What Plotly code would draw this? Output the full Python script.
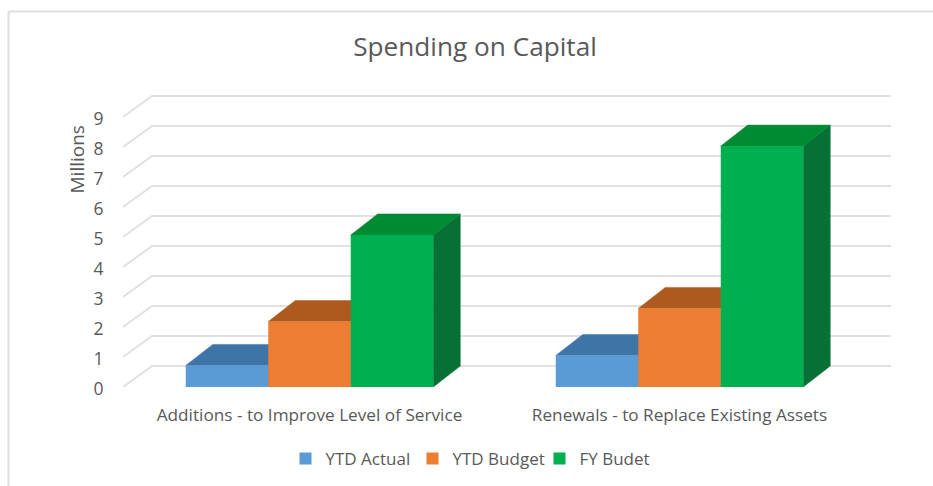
import plotly.graph_objects as go

categories = ["Additions - to Improve Level of Service", "Renewals - to Replace Existing Assets"]
series_names = ["YTD Actual", "YTD Budget", "FY Budet"]
ytd_actual = [0.72, 1.05]
ytd_budget = [2.18, 2.62]
fy_budget = [5.07, 8.03]
y_ticks = [0, 1, 2, 3, 4, 5, 6, 7, 8, 9]

front_colors = ["#5B9BD5", "#ED7D31", "#00B050"]
top_colors = ["#3F75A6", "#AE5A1E", "#008A32"]
side_colors = ["#3A6A94", "#A5541C", "#067035"]
TEXT = "#595959"
GRID = "#E2E0E0"

W, H = 933, 486
L, R, T, B = 123, 42, 90, 99
PX_X = 370.0          # pixels between category centres
PX_Y = 30.0           # pixels per unit
DX = 27 / PX_X        # oblique depth, in axis units
DY = 21 / PX_Y
WALL_DX = 29 / PX_X
x_min = -(309.5 - L) / PX_X
x_max = x_min + (W - L - R) / PX_X
y_max = (H - T - B) / PX_Y
BAR_W = 82.5 / PX_X
bargap = 1 - 3 * BAR_W

shapes = []
# outer frame of the picture
px = lambda v: (v - L) / (W - L - R)
py = lambda v: 1 - (v - T) / (H - T - B)
shapes.append(dict(type="line", xref="paper", yref="paper", x0=px(8.5), x1=px(W), y0=py(11.5), y1=py(11.5),
                   line=dict(color="#DEDEDE", width=2), layer="below"))
shapes.append(dict(type="line", xref="paper", yref="paper", x0=px(8.5), x1=px(8.5), y0=py(11.5), y1=py(H),
                   line=dict(color="#DEDEDE", width=2), layer="below"))
# oblique grid on floor / back wall
for v in y_ticks:
    path = f"M {x_min},{v} L {x_min + WALL_DX},{v + DY} L {x_max},{v + DY}"
    shapes.append(dict(type="path", xref="x", yref="y", path=path, layer="below",
                       line=dict(color=GRID, width=2)))


def poly(points, color):
    d = "M " + " L ".join(f"{a},{b}" for a, b in points) + " Z"
    return dict(type="path", xref="x", yref="y", path=d, layer="below",
                fillcolor=color, line=dict(color=color, width=0.5))


all_series = [ytd_actual, ytd_budget, fy_budget]
for s, vals in enumerate(all_series):
    for c, v in enumerate(vals):
        x0 = c + (s - 1.5) * BAR_W
        x1 = x0 + BAR_W
        shapes.append(poly([(x1, 0), (x1 + DX, DY), (x1 + DX, v + DY), (x1, v)], side_colors[s]))
        shapes.append(poly([(x0, v), (x1, v), (x1 + DX, v + DY), (x0 + DX, v + DY)], top_colors[s]))

fig = go.Figure()
for name, vals, col in zip(series_names, all_series, front_colors):
    fig.add_trace(go.Bar(name=name, x=[0, 1], y=vals, marker=dict(color=col, line=dict(width=0))))

fig.update_layout(
    width=W, height=H, autosize=False,
    margin=dict(l=L, r=R, t=T, b=B, pad=0),
    paper_bgcolor="white", plot_bgcolor="rgba(0,0,0,0)",
    barmode="group", bargap=bargap, bargroupgap=0,
    font=dict(family="Open Sans", color=TEXT, size=15),
    shapes=shapes,
    title=dict(text="Spending on Capital", x=475 / W, xanchor="center", y=1 - 47 / H, yanchor="middle",
               font=dict(size=26.2, color=TEXT)),
    xaxis=dict(range=[x_min, x_max], tickmode="array", tickvals=[0, 1], ticktext=categories,
               showgrid=False, zeroline=False, showline=False, ticks="outside", ticklen=12,
               tickcolor="rgba(0,0,0,0)", tickfont=dict(size=17.2, color=TEXT)),
    yaxis=dict(range=[0, y_max], tickmode="array", tickvals=y_ticks, showgrid=False, zeroline=False,
               showline=False, ticks="outside", ticklen=15, tickcolor="rgba(0,0,0,0)", ticklabelshift=2,
               tickfont=dict(size=17.5, color=TEXT)),
    legend=dict(orientation="h", xref="container", yref="container", x=476 / W, xanchor="center",
                y=1 - 459 / H, yanchor="middle",
                font=dict(size=17, color=TEXT), itemwidth=30, traceorder="normal",
                entrywidth=82, entrywidthmode="pixels"),
    annotations=[dict(text="Millions", xref="paper", yref="paper", x=px(76), y=py(159.5), textangle=-90,
                      xanchor="center", yanchor="middle", showarrow=False, font=dict(size=19, color=TEXT))],
)
fig.write_html("out.html", config={"displayModeBar": False},
               post_script="document.body.style.margin='0';document.body.style.overflow='hidden';")
